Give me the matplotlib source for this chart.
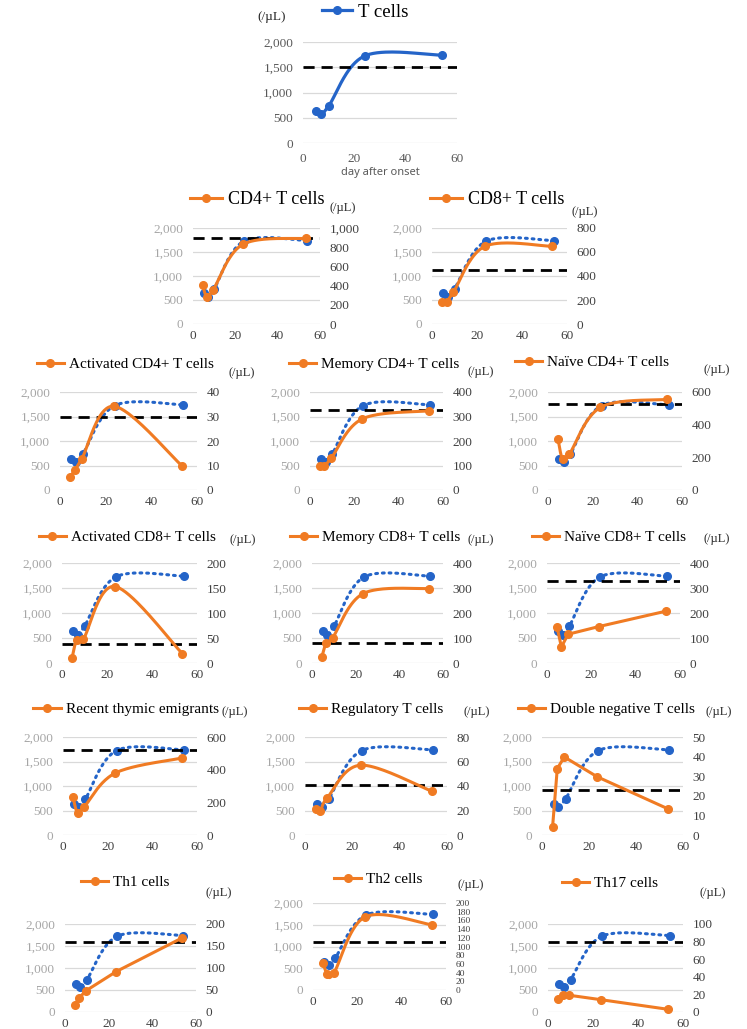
import numpy as np
import matplotlib
matplotlib.use('Agg')
import matplotlib.pyplot as plt
from matplotlib.lines import Line2D
from matplotlib.ticker import FuncFormatter

plt.rcParams['font.family'] = ['Liberation Serif', 'DejaVu Serif']

W, H = 747, 1029
BLUE = '#2464C8'
ORANGE = '#F07B23'

# days after onset
days_t = [5, 7, 10, 24, 54]
days_sub = [4.5, 6.5, 9.5, 23.5, 53.5]

# total T cells (/uL) and its reference value
t_cells = [636, 570, 734, 1724, 1738]
t_cells_ref = 1500

# subsets (/uL)
cd4 = [408, 286, 355, 829, 892]
cd8 = [187, 187, 265, 647, 647]
act_cd4 = [5.4, 8.1, 12.7, 34.2, 9.8]
mem_cd4 = [97, 100, 129, 290, 323]
naive_cd4 = [311, 189, 218, 506, 555]
act_cd8 = [10.7, 45.6, 48, 153, 18.8]
mem_cd8 = [24, 79, 102, 278, 298]
naive_cd8 = [145, 64, 115, 146, 207]
rte = [230, 136, 173, 380, 472]
treg = [20.9, 19.8, 30.6, 57, 35.8]
dnt = [4.1, 33.9, 39.8, 29.7, 13.4]
th1 = [17, 32, 48, 92, 168]
th2 = [62, 37, 40, 168, 150]
th17 = [15, 19, 19, 14, 3]

# reference (normal) values, dashed lines
refs = {'CD4+ T cells': 895, 'CD8+ T cells': 446,
        'Activated CD4+ T cells': 30, 'Memory CD4+ T cells': 328,
        'Naïve CD4+ T cells': 525, 'Activated CD8+ T cells': 39,
        'Memory CD8+ T cells': 82, 'Naïve CD8+ T cells': 328,
        'Recent thymic emigrants': 519, 'Regulatory T cells': 40.5,
        'Double negative T cells': 23.2, 'Th1 cells': 160,
        'Th2 cells': 110, 'Th17 cells': 80}


def smooth(x, y, n=40):
    # bezier smoothing like the spreadsheet "smoothed line"
    p = np.column_stack([x, y]).astype(float)
    out = [p[0]]
    t = np.linspace(0, 1, n)[1:, None]
    for i in range(len(p) - 1):
        p0 = p[i - 1] if i > 0 else p[i]
        p3 = p[i + 2] if i + 2 < len(p) else p[i + 1]
        c1 = p[i] + (p[i + 1] - p0) / 6
        c2 = p[i + 1] - (p3 - p[i]) / 6
        seg = ((1 - t) ** 3 * p[i] + 3 * (1 - t) ** 2 * t * c1
               + 3 * (1 - t) * t ** 2 * c2 + t ** 3 * p[i + 1])
        out.extend(seg)
    out = np.array(out)
    return out[:, 0], out[:, 1]


def rect(L, T, R, B):
    return [L / W, 1 - B / H, (R - L) / W, (B - T) / H]


comma = FuncFormatter(lambda v, _: f'{int(v):,}')

fig = plt.figure(figsize=(W / 100, H / 100), dpi=100)


def base_axes(box, left_color):
    ax = fig.add_axes(rect(*box))
    ax.set_xlim(0, 60)
    ax.set_ylim(0, 2000)
    ax.set_xticks([0, 20, 40, 60])
    ax.set_yticks([0, 500, 1000, 1500, 2000])
    ax.yaxis.set_major_formatter(comma)
    ax.grid(axis='y', color='#d9d9d9', lw=0.9)
    ax.set_axisbelow(True)
    for s in ax.spines.values():
        s.set_visible(False)
    ax.tick_params(axis='y', length=0, pad=7, labelsize=9.5, labelcolor=left_color)
    ax.tick_params(axis='x', length=0, pad=4, labelsize=9.5, labelcolor='#404040')
    return ax


# top panel: T cells
ax = base_axes((303, 42, 457, 143), '#595959')
sx, sy = smooth(days_t, t_cells)
ax.plot(sx, sy, color=BLUE, lw=2.3, solid_capstyle='round')
ax.plot(days_t, t_cells, 'o', color=BLUE, ms=5.5, clip_on=False)
ax.axhline(t_cells_ref, color='black', lw=2, dashes=(4, 2.5))
ax.tick_params(axis='x', labelcolor='#595959', pad=7)
h = Line2D([], [], color=BLUE, lw=2.3, marker='o', ms=5.5)
ax.legend(handles=[h], labels=['T cells'], loc='center',
          bbox_to_anchor=(365 / W, 1 - 12 / H), bbox_transform=fig.transFigure,
          frameon=False, fontsize=13.5, handlelength=1.6, handletextpad=0.3)
fig.text(257 / W, 1 - 17 / H, '(/µL)', fontsize=9.5, ha='left', va='center', color='#262626')
fig.text(380 / W, 1 - 172 / H, 'day after onset', fontsize=8, ha='center', va='center',
         color='#595959', family=['Noto Sans', 'DejaVu Sans'])

# subset panels: name, values, right max, right step, smoothed, box, legend centre, legend size, unit pos
panels = [
    ('CD4+ T cells', cd4, 1000, 200, True, (193, 228, 320, 324), (257, 200), 13, (330, 208)),
    ('CD8+ T cells', cd8, 800, 200, True, (432, 228, 567, 324), (497, 200), 13, (572, 212)),
    ('Activated CD4+ T cells', act_cd4, 40, 10, True, (60, 392, 197, 490), (125, 364), 11, (228, 373)),
    ('Memory CD4+ T cells', mem_cd4, 400, 100, True, (310, 392, 443, 490), (374, 364), 11, (467, 372)),
    ('Naïve CD4+ T cells', naive_cd4, 600, 200, True, (548, 392, 682, 490), (592, 362), 11, (703, 370)),
    ('Activated CD8+ T cells', act_cd8, 200, 50, True, (62, 563, 197, 663), (127, 537), 11, (229, 540)),
    ('Memory CD8+ T cells', mem_cd8, 400, 100, True, (312, 563, 443, 663), (375, 537), 11, (467, 540)),
    ('Naïve CD8+ T cells', naive_cd8, 400, 100, False, (547, 563, 680, 663), (609, 537), 11, (703, 539)),
    ('Recent thymic emigrants', rte, 600, 200, True, (63, 737, 197, 835), (126, 709), 11, (222, 712)),
    ('Regulatory T cells', treg, 80, 20, True, (305, 737, 447, 835), (371, 709), 11, (463, 712)),
    ('Double negative T cells', dnt, 50, 10, False, (542, 737, 683, 835), (606, 709), 11, (705, 712)),
    ('Th1 cells', th1, 200, 50, False, (65, 924, 196, 1012), (125, 882), 11, (205, 893)),
    ('Th2 cells', th2, 200, 20, True, (313, 903, 446, 990), (378, 879), 11, (458, 885)),
    ('Th17 cells', th17, 100, 20, False, (548, 924, 683, 1012), (610, 883), 11, (700, 893)),
]

for name, vals, rmax, rstep, sm, box, leg, lsize, unit in panels:
    ax = base_axes(box, '#a6a6a6')
    sx, sy = smooth(days_t, t_cells)
    ax.plot(sx, sy, color=BLUE, lw=2.2, ls=(0, (0.6, 1.6)), dash_capstyle='round')
    ax.plot(days_t, t_cells, 'o', color=BLUE, ms=5.5, clip_on=False)

    ax2 = ax.twinx()
    ax2.set_ylim(0, rmax)
    ax2.set_yticks(np.arange(0, rmax + rstep / 2, rstep))
    ax2.yaxis.set_major_formatter(comma)
    for s in ax2.spines.values():
        s.set_visible(False)
    rsize = 9.5 if rmax / rstep <= 6 else 6.8
    ax2.tick_params(axis='y', length=0, pad=7, labelsize=rsize, labelcolor='#404040')
    ax2.axhline(refs[name], color='black', lw=2, dashes=(4, 2.5), zorder=1)
    if sm:
        ox, oy = smooth(days_sub, vals)
    else:
        ox, oy = days_sub, vals
    ax2.plot(ox, oy, color=ORANGE, lw=2.2, zorder=3, solid_capstyle='round')
    ax2.plot(days_sub, vals, 'o', color=ORANGE, ms=5.5, zorder=4, clip_on=False)

    h = Line2D([], [], color=ORANGE, lw=2.2, marker='o', ms=5.5)
    ax2.legend(handles=[h], labels=[name], loc='center',
               bbox_to_anchor=(leg[0] / W, 1 - leg[1] / H), bbox_transform=fig.transFigure,
               frameon=False, fontsize=lsize, handlelength=1.8, handletextpad=0.3)
    fig.text(unit[0] / W, 1 - unit[1] / H, '(/µL)', fontsize=9, ha='left', va='center',
             color='#262626')

fig.savefig('out.png', dpi=100)
